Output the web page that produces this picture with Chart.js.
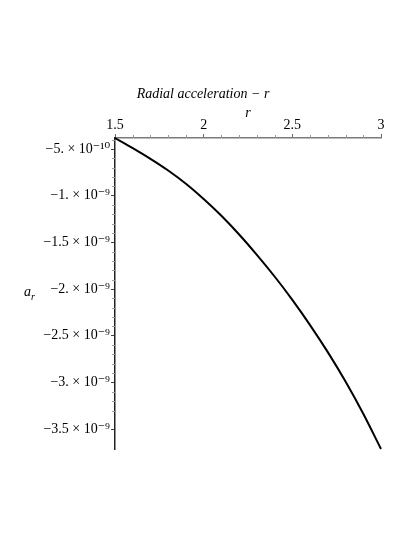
<!DOCTYPE html>
<html>
<head>
<meta charset="utf-8">
<script src="https://cdn.jsdelivr.net/npm/chart.js@4.4.1/dist/chart.umd.min.js"></script>
<style>
  html, body { margin: 0; padding: 0; background: #fff; }
  #wrap { width: 415px; height: 537px; }
</style>
</head>
<body>
<div id="wrap"><canvas id="c" width="415" height="537"></canvas></div>
<script>
// ---- data ----
const rValues = [1.5, 1.6, 1.7, 1.8, 1.9, 2.0, 2.1, 2.2, 2.3, 2.4, 2.5, 2.6, 2.7, 2.8, 2.9, 3.0];
const radialAcc = [-0.382e-9, -0.490e-9, -0.605e-9, -0.730e-9, -0.872e-9, -1.035e-9, -1.215e-9, -1.415e-9,
                   -1.633e-9, -1.865e-9, -2.115e-9, -2.385e-9, -2.675e-9, -2.990e-9, -3.335e-9, -3.712e-9];
const xTicks = [1.5, 2, 2.5, 3];
const xTickLabels = ['1.5', '2', '2.5', '3'];
const yTicks = [-5e-10, -1e-9, -1.5e-9, -2e-9, -2.5e-9, -3e-9, -3.5e-9];
const yTickLabels = ['\u22125. \u00d7 10\u207b\u00b9\u2070', '\u22121. \u00d7 10\u207b\u2079', '\u22121.5 \u00d7 10\u207b\u2079',
                     '\u22122. \u00d7 10\u207b\u2079', '\u22122.5 \u00d7 10\u207b\u2079', '\u22123. \u00d7 10\u207b\u2079',
                     '\u22123.5 \u00d7 10\u207b\u2079'];
const chartTitle = 'Radial acceleration \u2212 r';
const xAxisTitle = 'r';
const yAxisMain = 'a';
const yAxisSub = 'r';

const SERIF = '"Liberation Serif", "DejaVu Serif", serif';

const extrasPlugin = {
  id: 'extras',
  afterDraw(chart) {
    const ctx = chart.ctx;
    const xs = chart.scales.x, ys = chart.scales.y;
    const area = chart.chartArea;
    ctx.save();
    // minor ticks
    ctx.strokeStyle = '#9a9a9a';
    ctx.lineWidth = 1;
    for (let i = 0; i <= 15; i++) {
      const v = 1.5 + i * 0.1;
      if (i % 5 === 0) continue;
      const px = Math.round(xs.getPixelForValue(v)) + 0.5;
      ctx.beginPath(); ctx.moveTo(px, area.top); ctx.lineTo(px, area.top - 3); ctx.stroke();
    }
    for (let i = 1; i <= 33; i++) {
      const v = -i * 1e-10;
      if (i % 5 === 0) continue;
      const py = Math.round(ys.getPixelForValue(v)) + 0.5;
      if (py < area.top || py > area.bottom) continue;
      ctx.beginPath(); ctx.moveTo(area.left, py); ctx.lineTo(area.left - 3, py); ctx.stroke();
    }
    // y axis label a_r
    ctx.fillStyle = '#000';
    ctx.textBaseline = 'alphabetic';
    ctx.textAlign = 'left';
    ctx.font = 'italic 14px ' + SERIF;
    ctx.fillText(yAxisMain, 24, 296);
    ctx.font = 'italic 10px ' + SERIF;
    ctx.fillText(yAxisSub, 31, 300);
    ctx.restore();
  }
};

new Chart(document.getElementById('c'), {
  type: 'line',
  data: {
    datasets: [{
      data: rValues.map((r, i) => ({ x: r, y: radialAcc[i] })),
      borderColor: '#000',
      borderWidth: 2,
      pointRadius: 0,
      cubicInterpolationMode: 'monotone',
      fill: false,
      clip: false
    }]
  },
  options: {
    responsive: false,
    animation: false,
    layout: { padding: { left: 0, right: 9, top: 0, bottom: 88 } },
    plugins: {
      legend: { display: false },
      tooltip: { enabled: false },
      title: {
        display: true,
        text: chartTitle,
        color: '#000',
        font: { family: SERIF, size: 14, style: 'italic', weight: 'normal', lineHeight: 1.2 },
        padding: { top: 86, bottom: 2 }
      }
    },
    scales: {
      x: {
        type: 'linear',
        position: 'top',
        min: 1.5,
        max: 3,
        afterBuildTicks: s => { s.ticks = xTicks.map(v => ({ value: v })); },
        afterFit: s => { s.height = 33.2; },
        ticks: {
          color: '#000',
          padding: 0,
          maxRotation: 0,
          autoSkip: false,
          font: { family: SERIF, size: 14 },
          callback: (v, i) => xTickLabels[i]
        },
        grid: { display: true, drawOnChartArea: false, tickLength: 4, color: '#666', tickColor: '#666' },
        border: { display: true, color: '#7a7a7a', width: 1.5 },
        title: {
          display: true,
          text: xAxisTitle,
          color: '#000',
          padding: { top: 0, bottom: 0 },
          font: { family: SERIF, size: 14, style: 'italic' }
        }
      },
      y: {
        type: 'linear',
        position: 'left',
        min: -3.712e-9,
        max: -3.82e-10,
        afterBuildTicks: s => { s.ticks = yTicks.map(v => ({ value: v })); },
        afterFit: s => { s.width = 115; },
        ticks: {
          color: '#000',
          padding: 1,
          autoSkip: false,
          font: { family: SERIF, size: 14 },
          callback: (v, i) => yTickLabels[i]
        },
        grid: { display: true, drawOnChartArea: false, tickLength: 4, color: '#444', tickColor: '#444' },
        border: { display: true, color: '#222', width: 1.5 }
      },
      yRight: {
        type: 'linear',
        position: 'right',
        display: true,
        afterFit: s => { s.width = 25; },
        ticks: { display: false },
        grid: { display: false, drawOnChartArea: false },
        border: { display: false }
      }
    }
  },
  plugins: [extrasPlugin]
});
</script>
</body>
</html>
